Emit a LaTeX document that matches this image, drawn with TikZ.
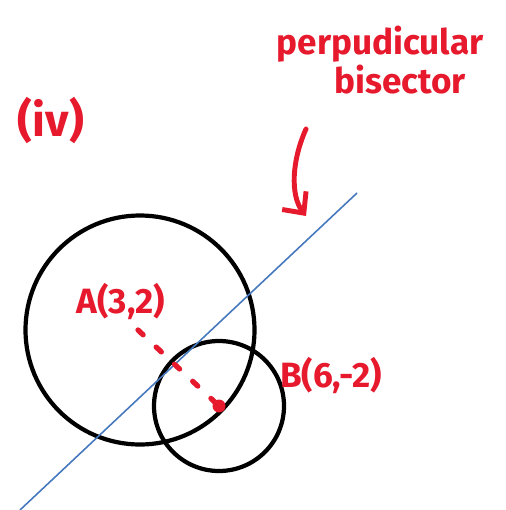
\documentclass[tikz,border=0pt]{standalone}
\usepackage{fontspec}
\setmainfont{Fira Sans}
\usetikzlibrary{positioning, arrows.meta}
\definecolor{penred}{RGB}{230,25,45}
\definecolor{lineblue}{RGB}{70,120,190}
\tikzset{
    circ/.style={draw=black,line width=2.4pt},
    note/.style={text=penred,inner sep=0pt,font=\bfseries\fontsize{20}{24}\selectfont},
    centrejoin/.style={draw=penred,line width=3pt,line cap=round,dash pattern=on 0.14cm off 0.36cm},
    pointer/.style={draw=penred,line width=2.8pt,line cap=round,-{Straight Barb[length=0.32cm,width=0.6cm,line width=2.8pt]}}
}
\begin{document}
\begin{tikzpicture}[x=0.02cm,y=-0.02cm]
        \useasboundingbox (0,0) rectangle (505,510);
        % centres and line ends
        \coordinate (A) at (138,330);
        \coordinate (B) at (219,406);
        \coordinate (bis-lo) at (20,510);
        \coordinate (bis-hi) at (357,193);
        \coordinate (arr-top) at (306,129);
        \coordinate (arr-tip) at (306,216);
        % circles
        \draw[circ] (140,330) circle (114.5);
        \draw[circ] (B) circle (65);
        % perpendicular bisector
        \draw[lineblue,line width=0.9pt] (bis-lo) -- (bis-hi);
        % join of the two centres
        \draw[centrejoin] (A) -- (B);
        \fill[penred] (B) circle (6.5);
        % labels
        \node[note] (labA) at (121,302) {A(3,2)};
        \node[note] (labB) at (331,376) {B(6,-2)};
        \node[note,font=\bfseries\fontsize{26}{30}\selectfont] (part) at (51,121) {(iv)};
        \node[note] (title1) at (380,44) {perpudicular};
        \node[note] (title2) at (400,80) {bisector};
        % arrow to the line
        \draw[pointer] (arr-top) .. controls (292,160) and (290,195) .. (arr-tip);
    \end{tikzpicture}
\end{document}
